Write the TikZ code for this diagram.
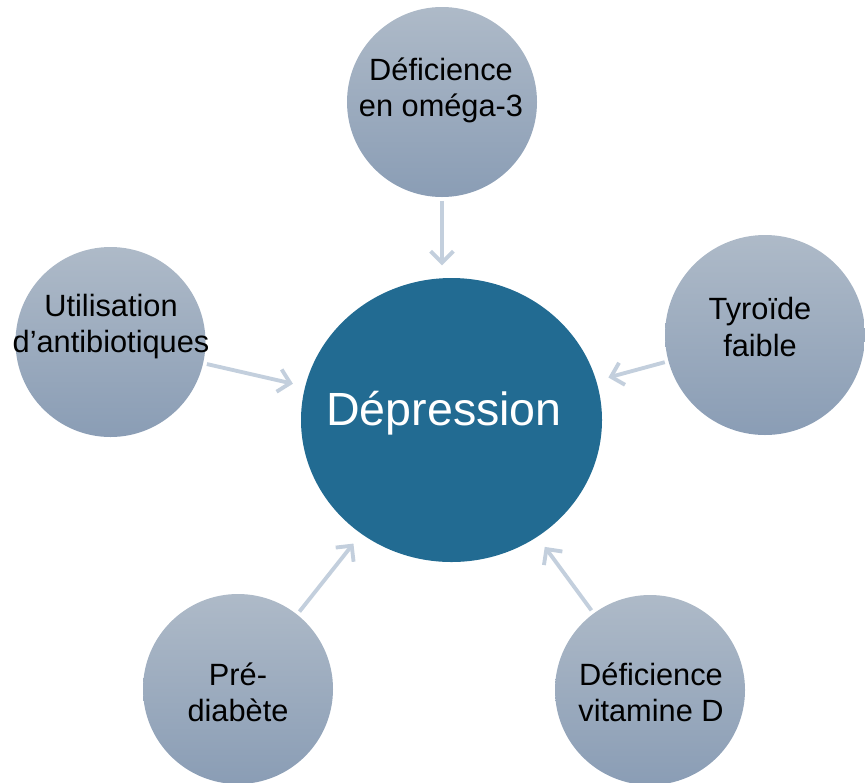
\documentclass[tikz,border=0pt]{standalone}
\usepackage{fontspec}
\setmainfont{Liberation Sans}
\usepackage{tikz}
\usetikzlibrary{arrows.meta, shapes.geometric}

\definecolor{bulleHaut}{RGB}{174,186,200}
\definecolor{bulleBas}{RGB}{138,157,181}
\definecolor{centre}{RGB}{34,107,146}
\definecolor{fleche}{RGB}{195,207,221}

\begin{document}
\begin{tikzpicture}[>={Straight Barb[length=6.5pt, width=13pt]},
          cause/.style={circle, top color=bulleHaut, bottom color=bulleBas, minimum size=3.8cm, inner sep=0pt},
          txt/.style={align=center, font=\fontsize{17.5}{20.5}\selectfont, text=black},
          lien/.style={draw=fleche, line width=2.2pt, shorten <=2pt, shorten >=7pt}
        ]
        \useasboundingbox (0,0) rectangle (17.3,-15.64);

        % bulle centrale
        \node[ellipse, fill=centre, minimum width=6.02cm, minimum height=5.68cm, inner sep=0pt] (dep) at (9.03,-8.40) {};
        \node[text=white, font=\fontsize{26.5}{30}\selectfont] (deptxt) at (8.88,-8.26) {Dépression};

        % causes
        \node[cause] (omega) at (8.84,-2.04) {};
        \node[cause] (antib) at (2.21,-6.84) {};
        \node[cause, minimum size=4.0cm] (thyro) at (15.30,-6.70) {};
        \node[cause] (diab)  at (4.76,-13.78) {};
        \node[cause] (vitd)  at (13.00,-13.80) {};

        \node[txt] (omegatxt) at (8.82,-1.80)  {Déficience\\en oméga-3};
        \node[txt] (antibtxt) at (2.22,-6.54)  {Utilisation\\d’antibiotiques};
        \node[txt] (thyrotxt) at (15.20,-6.54) {Tyroïde\\faible};
        \node[txt] (diabtxt)  at (4.76,-13.84) {Pré-\\diabète};
        \node[txt] (vitdtxt)  at (13.02,-13.84) {Déficience\\vitamine D};

        % fleches vers le centre
        \draw[lien, ->] (omega.south) -- (omega |- dep.north);
        \draw[lien, ->] (antib) -- (dep);
        \draw[lien, ->] (thyro) -- (dep);
        \draw[lien, ->] (diab) -- (dep);
        \draw[lien, ->] (vitd) -- (dep);
      \end{tikzpicture}
\end{document}
